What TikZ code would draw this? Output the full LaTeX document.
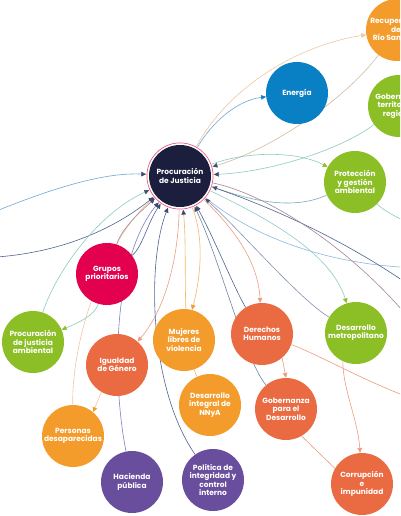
\documentclass[tikz,border=0pt]{standalone}
\usepackage{fontspec}
\setmainfont{Poppins}
\usetikzlibrary{arrows.meta,backgrounds}
\definecolor{navy}{HTML}{1B1E3D}
\definecolor{ringpink}{HTML}{E8557A}
\definecolor{cblue}{HTML}{0A80C4}
\definecolor{corange}{HTML}{F39C2B}
\definecolor{cgreen}{HTML}{8CBF26}
\definecolor{cred}{HTML}{EA6A42}
\definecolor{ccrim}{HTML}{E2004F}
\definecolor{cpurp}{HTML}{6A4E9E}
\definecolor{eblue}{HTML}{6FA8D6}
\definecolor{edark}{HTML}{4D6590}
\definecolor{eteal}{HTML}{8CCBC3}
\definecolor{etan}{HTML}{EEC7A2}
\definecolor{esalmon}{HTML}{EE9C7E}
\definecolor{emauve}{HTML}{A98595}
\definecolor{eviolet}{HTML}{7E80C2}
\definecolor{eorange}{HTML}{F4B76A}
\definecolor{tipdark}{HTML}{3E4A6E}
\begin{document}
\begin{tikzpicture}[x=0.75pt,y=-0.75pt,
  topic/.style={circle,minimum size=46.5pt,inner sep=0pt,text=white,align=center,
    font=\fontsize{5.6}{6.3}\selectfont\bfseries},
  link/.style={line width=0.45pt},
  tipc/.style={-{Triangle[length=3.6pt,width=3.4pt,color=#1]}}
]
\useasboundingbox (0,0) rectangle (400,516);
\begin{scope}
\clip (0,0) rectangle (400,516);
\node[topic,fill=navy,outer sep=2.2pt] (C) at (180,176) {Procuración\\de Justicia};
\node[topic,fill=cblue] (En) at (297,93) {Energía};
\node[topic,fill=corange] (Rec) at (397,30) {Recuperación\\del\\Río Santiago};
\node[topic,fill=cgreen] (GT) at (399,106) {Gobernanza\\territorial y\\regional};
\node[topic,fill=cgreen] (Pro) at (355,182) {Protección\\y gestión\\ambiental};
\node[topic,fill=ccrim] (Gr) at (107,274) {Grupos\\prioritarios};
\node[topic,fill=cgreen] (PJA) at (33,342) {Procuración\\de justicia\\ambiental};
\node[topic,fill=cred] (Ig) at (117,365) {Igualdad\\de Género};
\node[topic,fill=corange] (Mu) at (184,340) {Mujeres\\libres de\\violencia};
\node[topic,fill=cred] (DH) at (262,334) {Derechos\\Humanos};
\node[topic,fill=cgreen] (DM) at (356,333) {Desarrollo\\metropolitano};
\node[topic,fill=corange] (NN) at (210,405) {Desarrollo\\integral de\\NNyA};
\node[topic,fill=cred] (GD) at (286,409) {Gobernanza\\para el\\Desarrollo};
\node[topic,fill=corange] (PD) at (73,436) {Personas\\desaparecidas};
\node[topic,fill=cpurp] (HP) at (132,482) {Hacienda\\pública};
\node[topic,fill=cpurp] (PI) at (213,480) {Política de\\integridad y\\control\\interno};
\node[topic,fill=cred] (CI) at (362,484) {Corrupción\\e\\impunidad};
\draw[ringpink,line width=0.5pt] (C.center) circle[radius=24.8pt];
\end{scope}
\coordinate (L1) at (-30,222);
\coordinate (L2) at (-30,258);
\coordinate (R1) at (430,268);
\coordinate (R2) at (430,345);
\coordinate (R3) at (430,300);
\coordinate (R4) at (430,405);
\coordinate (R5) at (430,232);
\begin{scope}[on background layer]
\fill[white] (0,0) rectangle (400,516);
\clip (0,0) rectangle (400,516);
% into C from the left
\draw[link,eblue,tipc=tipdark] (L1) .. controls (40,192) and (100,172) .. (C);
\draw[link,edark,tipc=tipdark] (L2) .. controls (50,258) and (110,232) .. (C);
% right side into C
\draw[link,etan!80!gray,tipc=tipdark] (Rec) .. controls (345,100) and (270,150) .. (C);
\draw[link,eteal,tipc=tipdark] (GT) .. controls (340,150) and (270,172) .. (C);
\draw[link,eteal!70!edark,tipc=tipdark] (Pro) .. controls (290,212) and (245,198) .. (C);
% out of C upwards / right
\draw[link,eteal,tipc=cgreen] (C) .. controls (250,150) and (300,152) .. (Pro);
\draw[link,eblue,tipc=cblue] (C) .. controls (215,118) and (240,100) .. (En);
\draw[link,etan,tipc=etan] (C) .. controls (230,85) and (300,45) .. (Rec);
\draw[link,eteal] (Pro) .. controls (385,212) and (405,222) .. (R5);
\draw[link,eblue!80!white] (C) .. controls (250,235) and (330,268) .. (R1);
\draw[link,edark] (C) .. controls (265,205) and (350,240) .. (R3);
\draw[link,emauve] (C) .. controls (270,195) and (365,255) .. (R2);
\draw[link,eteal,tipc=cgreen] (C) .. controls (260,215) and (330,250) .. (DM);
\draw[link,edark!70!white,tipc=tipdark] (DM) .. controls (300,300) and (240,230) .. (C);
\draw[link,esalmon] (DH) .. controls (320,355) and (370,385) .. (R4);
\draw[link,esalmon,tipc=esalmon] (C) .. controls (235,230) and (258,262) .. (DH);
\draw[link,esalmon,tipc=esalmon] (DH.-50) -- (GD.north);
\draw[link,esalmon,tipc=esalmon] (DM.-115) .. controls (343,390) and (358,420) .. (CI);
\draw[link,esalmon] (GD.-60) -- (CI.150);
\draw[link,edark!80!white,tipc=tipdark] (GD) .. controls (245,360) and (220,260) .. (C);
\draw[link,edark,tipc=tipdark] (DH) .. controls (235,290) and (215,240) .. (C);
% downwards
\draw[link,eorange,tipc=corange] (C) .. controls (205,240) and (200,280) .. (Mu);
\draw[link,esalmon,tipc=esalmon] (C) .. controls (178,260) and (165,310) .. (Ig);
\draw[link,etan,tipc=corange] (Ig.-120) -- (PD.50);
\draw[link,etan,tipc=tipdark] (PD) .. controls (72,330) and (110,235) .. (C);
\draw[link,eteal,tipc=cgreen] (Gr) .. controls (95,315) and (80,322) .. (PJA);
\draw[link,eteal,tipc=tipdark] (PJA) .. controls (55,275) and (95,215) .. (C);
\draw[link,emauve,tipc=tipdark] (Gr) .. controls (122,228) and (140,212) .. (C);
\draw[link,edark,tipc=tipdark] (Gr) .. controls (142,248) and (148,222) .. (C);
\draw[link,eviolet,tipc=tipdark] (HP) .. controls (112,380) and (112,260) .. (C);
\draw[link,edark,tipc=tipdark] (PI) .. controls (150,390) and (146,265) .. (C);
\draw[link,eorange,tipc=tipdark] (NN) .. controls (180,340) and (188,260) .. (C);
\end{scope}
\end{tikzpicture}
\end{document}
